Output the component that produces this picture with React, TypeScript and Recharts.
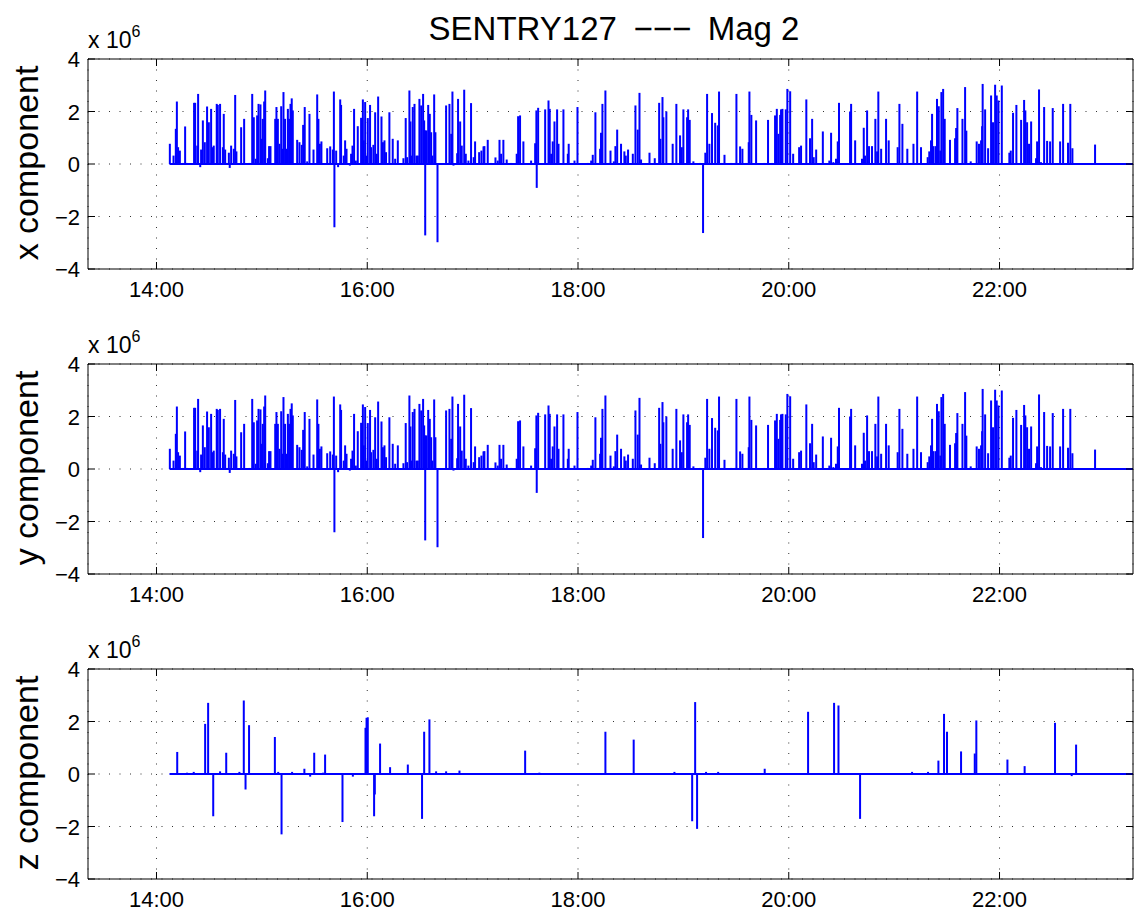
import { ComposedChart, Bar, XAxis, YAxis, CartesianGrid, ReferenceLine } from "recharts"

// time in minutes since midnight, value in units of 1e6
const xSpikes: [number, number][] = [
  [847.6, 0.77], [849.7, 0.32], [851.0, 1.34], [851.6, 2.38], [852.3, 0.64], [853.3, 0.51], [855.2, 0.04],
  [856.3, 1.43], [857.3, 0.04], [861.4, 2.33], [862.0, 2.33], [863.2, 0.7], [863.7, 2.67], [864.9, -0.12],
  [865.4, 0.55], [866.4, 1.66], [867.5, 0.83], [868.8, 2.19], [869.8, 1.59], [871.1, 2.1], [872.1, 0.64],
  [872.6, 0.7], [874.3, 2.29], [874.9, 2.25], [876.2, 2.29], [877.8, 0.64], [878.3, 1.91], [879.1, 0.55],
  [880.0, 0.04], [881.2, 0.43], [881.7, -0.15], [882.5, 0.7], [884.0, 0.58], [884.8, 2.63], [885.5, 0.48],
  [888.2, 1.4], [889.9, 1.72], [892.9, 0.04], [894.5, 2.67], [895.4, 1.78], [896.5, 0.2], [897.3, 1.85],
  [898.1, 2.29], [899.2, 2.27], [900.0, 0.96], [900.5, 1.72], [901.3, 2.38], [901.9, 2.8], [903.4, 0.22],
  [904.1, 0.68], [904.9, 0.68], [907.6, 1.72], [908.3, 2.17], [909.1, 1.72], [910.0, 0.77], [911.0, 2.2],
  [911.5, 0.58], [912.3, 2.74], [913.2, 1.72], [914.0, 0.58], [914.8, 2.1], [915.5, 1.72], [916.3, 2.29],
  [917.0, 2.5], [917.6, 2.04], [920.1, 0.92], [921.4, 0.83], [922.7, 0.73], [923.5, 1.49], [924.4, 2.17],
  [925.8, 0.1], [927.1, 1.91], [929.4, 0.55], [931.5, 2.65], [932.2, 1.72], [933.0, 0.77], [933.9, 0.86],
  [937.2, 0.6], [938.9, 0.67], [940.4, 0.55], [941.0, 2.76], [941.3, -2.41], [942.3, 0.51], [943.4, -0.12],
  [944.6, 2.46], [945.1, 2.25], [946.6, 0.32], [947.4, 0.9], [948.2, 0.58], [950.1, -0.06], [950.8, 0.39],
  [951.6, 0.7], [952.5, 2.1], [953.5, 0.13], [954.6, 1.44], [956.5, 1.76], [957.5, 2.46], [958.0, 0.9],
  [958.8, 2.36], [959.7, 0.32], [960.3, 1.75], [961.6, 2.25], [962.2, 0.64], [963.5, 0.73], [964.5, 1.97],
  [965.4, 0.39], [966.2, 2.57], [968.1, 1.81], [968.9, 0.83], [969.8, 0.9], [970.7, 0.45], [972.6, 1.97],
  [974.5, 0.96], [975.9, 0.2], [977.4, 0.9], [980.6, 0.22], [981.9, 1.75], [982.7, 0.26], [984.0, 2.8],
  [984.6, 1.62], [985.4, 0.32], [985.9, 2.17], [986.9, 2.29], [988.0, 0.32], [988.8, 0.32], [989.7, 2.48],
  [990.7, 2.23], [991.8, 2.67], [992.4, 1.66], [992.9, 1.28], [993.0, -2.72], [993.7, 1.28], [994.7, 2.25],
  [995.6, 1.91], [996.4, 1.21], [997.1, 0.32], [998.1, 2.65], [998.8, 1.21], [1000.0, -2.98], [1004.9, 2.23],
  [1006.8, 2.29], [1007.8, 1.15], [1008.5, 2.76], [1009.1, -0.06], [1011.2, 0.41], [1011.7, 2.48],
  [1012.9, 1.62], [1013.8, 0.7], [1015.2, 2.83], [1016.1, 0.39], [1017.6, 0.13], [1019.1, 2.32],
  [1020.6, 0.26], [1021.4, 0.86], [1023.7, 0.45], [1025.0, 0.51], [1026.2, 0.67], [1026.7, 0.68],
  [1028.6, 0.92], [1030.5, 0.04], [1033.0, 0.25], [1034.3, 0.13], [1035.3, 0.92], [1036.2, 0.39],
  [1037.5, 0.92], [1039.4, 0.17], [1041.9, 0.04], [1045.1, 0.39], [1045.9, 1.82], [1047.0, 1.85],
  [1048.9, 0.86], [1053.3, 0.13], [1055.6, 0.79], [1056.3, 2.04], [1056.5, -0.91], [1057.3, 2.14],
  [1061.3, 2.08], [1063.2, 2.42], [1063.9, 2.1], [1064.7, 0.39], [1065.6, 0.86], [1066.6, 1.62],
  [1068.1, 2.08], [1068.9, 0.77], [1071.7, 2.08], [1074.2, 0.39], [1074.7, 0.77], [1076.1, 0.04],
  [1078.0, 0.13], [1079.7, 2.17], [1085.6, 0.04], [1087.5, 0.13], [1088.4, 0.35], [1089.9, 1.97],
  [1091.3, 0.04], [1092.6, 0.58], [1093.1, 1.19], [1093.9, 2.29], [1095.6, 2.8], [1097.3, 0.04],
  [1098.5, 0.51], [1100.4, 0.1], [1101.3, 0.68], [1102.3, 1.31], [1104.5, 0.77], [1106.4, 0.48],
  [1107.2, 0.32], [1108.5, 0.55], [1111.2, 0.39], [1112.7, 2.23], [1114.0, 1.31], [1115.0, 2.71],
  [1115.9, 0.17], [1120.7, 0.43], [1123.7, 0.22], [1126.2, 2.33], [1126.9, 0.96], [1128.1, 2.55],
  [1128.6, 1.78], [1130.3, 2.0], [1133.9, 0.77], [1136.0, 2.29], [1138.1, 1.09], [1139.1, 0.64],
  [1140.0, 2.08], [1142.1, 1.78], [1142.7, 2.08], [1143.6, 1.68], [1145.7, 0.1], [1149.5, 0.04],
  [1151.2, -2.63], [1152.5, 0.43], [1153.5, 2.67], [1154.8, 0.77], [1156.3, 1.94], [1158.1, 1.57],
  [1159.6, 1.47], [1160.3, 2.76], [1161.8, 0.04], [1163.4, 0.35], [1167.2, 0.04], [1169.4, 0.04],
  [1170.2, 2.67], [1172.3, 0.67], [1173.6, 0.58], [1175.7, 0.04], [1177.2, 0.83], [1177.6, 2.76],
  [1178.7, 1.87], [1181.4, 1.66], [1186.1, 0.04], [1188.2, 1.68], [1190.5, 0.04], [1192.2, 1.85],
  [1193.2, 2.1], [1194.1, 1.15], [1195.1, 1.87], [1195.6, 2.08], [1196.4, 2.1], [1198.3, 2.08],
  [1199.2, 2.86], [1200.8, 2.77], [1202.5, 0.39], [1205.9, 0.64], [1207.0, 0.7], [1210.0, 2.46],
  [1212.1, 0.98], [1213.3, 1.72], [1214.2, 0.26], [1215.6, 0.55], [1219.4, 1.24], [1223.1, 0.13],
  [1224.1, 1.19], [1225.4, 0.07], [1226.9, 0.2], [1227.9, 0.86], [1228.6, 2.33], [1234.9, 2.0],
  [1235.5, 2.29], [1237.8, 0.9], [1241.7, 0.2], [1242.7, 1.38], [1243.4, 0.32], [1244.6, 2.04],
  [1245.7, 0.68], [1247.4, 0.68], [1249.3, 1.72], [1250.3, 0.48], [1251.0, 2.76], [1252.6, 0.58],
  [1255.4, 1.72], [1256.9, 0.9], [1262.0, 0.64], [1263.0, 2.29], [1264.7, 1.53], [1266.2, 0.04],
  [1267.5, 0.58], [1269.6, 0.04], [1271.0, 0.77], [1273.1, 2.76], [1275.3, 0.64], [1279.1, 0.26],
  [1280.0, 0.48], [1281.0, 0.9], [1281.6, 1.91], [1282.2, 0.68], [1283.5, 0.68], [1284.4, 2.48],
  [1285.4, 2.2], [1286.3, 0.51], [1286.9, 2.74], [1287.9, 2.86], [1288.8, 1.72], [1291.8, 0.92],
  [1294.7, 0.98], [1295.3, 1.37], [1296.0, 2.13], [1298.9, 1.72], [1300.4, 2.93], [1301.1, 1.27],
  [1303.6, 0.1], [1307.0, 0.86], [1308.3, 0.77], [1309.5, 0.9], [1310.1, 1.44], [1310.4, 3.05],
  [1311.8, 2.08], [1313.5, 0.6], [1315.2, 2.61], [1316.3, 1.59], [1317.5, 3.02], [1318.4, 2.61],
  [1319.4, 2.42], [1321.3, 2.99], [1325.6, 0.43], [1326.4, 0.51], [1327.7, 1.95], [1329.6, 2.25],
  [1332.3, 1.68], [1334.0, 2.44], [1334.7, 2.04], [1335.7, 1.59], [1336.8, 0.77], [1338.0, 1.62],
  [1340.8, 0.22], [1341.4, 0.86], [1342.5, 2.84], [1343.6, 0.07], [1345.4, 2.17], [1347.1, 0.88],
  [1348.8, 0.86], [1350.3, 2.13], [1354.5, 0.86], [1356.2, 2.29], [1359.0, 0.81], [1360.3, 2.29],
  [1361.5, 0.6], [1374.4, 0.74], [1377.8, 0.03],
]

// the y trace is the same as x in the reference
const ySpikes: [number, number][] = xSpikes

const zSpikes: [number, number][] = [
  [851.8, 0.84], [857.4, 0.05], [861.2, 0.08], [867.7, 1.91], [869.4, 2.71], [872.3, -1.61], [876.2, 0.1],
  [879.7, 0.81], [887.2, 0.08], [889.7, 2.8], [890.7, -0.59], [892.7, 1.86], [907.4, 1.41], [909.3, 0.08],
  [911.2, -2.3], [917.2, 0.08], [924.2, 0.2], [927.5, -0.1], [929.8, 0.81], [934.9, 0.05], [936.0, 0.74],
  [945.9, -1.83], [951.8, -0.1], [959.0, 1.76], [959.6, 2.14], [960.3, 2.16], [963.9, -1.61],
  [964.3, -0.78], [967.3, 1.16], [973.0, 0.26], [983.1, 0.36], [991.2, -1.71], [992.4, 1.61],
  [995.4, 2.08], [999.2, 0.1], [1004.9, 0.1], [1012.5, 0.13], [1049.9, 0.89], [1058.0, 0.05],
  [1095.6, 1.61], [1111.7, 1.31], [1134.9, 0.08], [1145.0, -1.8], [1146.7, 2.74], [1147.8, -2.09],
  [1152.9, 0.08], [1159.8, 0.08], [1186.3, 0.2], [1211.0, 2.37], [1225.8, 2.71], [1228.3, 2.61],
  [1240.6, -1.71], [1270.2, 0.08], [1279.3, 0.08], [1285.2, 0.51], [1288.4, 2.29], [1290.1, 1.61],
  [1298.1, 0.86], [1305.9, 0.78], [1306.8, 2.04], [1324.5, 0.55], [1334.3, 0.3], [1351.6, 1.95],
  [1361.1, -0.08], [1363.6, 1.12],
]

const timeTicks = [840, 960, 1080, 1200, 1320]
const valueTicks = [-4, -2, 0, 2, 4]
const timeDomain = [801, 1396]
const valueDomain = [-4, 4]
const recordStart = 847.4
const recordEnd = 1396
const panelLabels = ["x component", "y component", "z component"]
const titleText = "SENTRY127\u2002\u2212\u2212\u2212\u2002Mag 2"

const FONT = "'Liberation Sans', Arial, Helvetica, sans-serif"
const BLUE = "#0000ff"
const PANEL_TOPS = [0, 305, 610]

const fmtTime = (m: number) => `${Math.floor(m / 60)}:${String(Math.round(m % 60)).padStart(2, "0")}`
const fmtValue = (v: number) => (v < 0 ? `\u2212${-v}` : `${v}`)

// inward ticks like matlab, drawn with the labels
const BottomTick = ({ x, y, payload }: any) => (
  <g>
    <line x1={x} x2={x} y1={y} y2={y - 7} stroke="#000" />
    <text x={x} y={y + 28} textAnchor="middle" fontSize={22} fontFamily={FONT} fill="#000">
      {fmtTime(payload.value)}
    </text>
  </g>
)
const TopTick = ({ x, y }: any) => <line x1={x} x2={x} y1={y} y2={y + 7} stroke="#000" />
const LeftTick = ({ x, y, payload }: any) => (
  <g>
    <line x1={x} x2={x + 7} y1={y} y2={y} stroke="#000" />
    <text x={x - 8} y={y + 8} textAnchor="end" fontSize={22} fontFamily={FONT} fill="#000">
      {fmtValue(payload.value)}
    </text>
  </g>
)
const RightTick = ({ x, y }: any) => <line x1={x} x2={x - 7} y1={y} y2={y} stroke="#000" />

// thin spike, centred on its time whatever band size recharts picks
const Spike = (props: any) => {
  const { x, y, width, height } = props
  if (x == null || y == null) return null
  const top = Math.min(y, y + height)
  const h = Math.max(Math.abs(height), 0.8)
  return <rect x={x + width / 2 - 1} y={top} width={2} height={h} fill={BLUE} />
}

function Panel({ spikes, top }: { spikes: [number, number][]; top: number }) {
  const data = spikes.map(([t, v]) => ({ t, v }))
  return (
    <div style={{ position: "absolute", left: 0, top }}>
      <ComposedChart width={1135} height={306} data={data} margin={{ top: 58, right: 1, bottom: 0, left: 0 }}>
        <CartesianGrid stroke="#333" strokeDasharray="1 9.5" />
        <XAxis
          dataKey="t"
          type="number"
          domain={timeDomain}
          ticks={timeTicks}
          allowDataOverflow
          height={37}
          tickLine={false}
          tickSize={0}
          tickMargin={0}
          axisLine={{ stroke: "#000" }}
          tick={<BottomTick />}
        />
        <XAxis
          xAxisId="top"
          dataKey="t"
          type="number"
          orientation="top"
          domain={timeDomain}
          ticks={timeTicks}
          allowDataOverflow
          height={1}
          tickLine={false}
          tickSize={0}
          tickMargin={0}
          axisLine={{ stroke: "#000" }}
          tick={<TopTick />}
        />
        <YAxis
          type="number"
          domain={valueDomain}
          ticks={valueTicks}
          allowDataOverflow
          width={88}
          tickLine={false}
          tickSize={0}
          tickMargin={0}
          axisLine={{ stroke: "#000" }}
          tick={<LeftTick />}
        />
        <YAxis
          yAxisId="right"
          orientation="right"
          type="number"
          domain={valueDomain}
          ticks={valueTicks}
          allowDataOverflow
          width={1}
          tickLine={false}
          tickSize={0}
          tickMargin={0}
          axisLine={{ stroke: "#000" }}
          tick={<RightTick />}
        />
        <ReferenceLine
          segment={[{ x: recordStart, y: 0 }, { x: recordEnd, y: 0 }]}
          stroke={BLUE}
          strokeWidth={2}
        />
        <Bar dataKey="v" fill={BLUE} shape={<Spike />} isAnimationActive={false} />
      </ComposedChart>
    </div>
  )
}

export default function App() {
  return (
    <div style={{ position: "absolute", left: 0, top: 0, width: 1135, height: 916, background: "#fff" }}>
      <Panel spikes={xSpikes} top={PANEL_TOPS[0]} />
      <Panel spikes={ySpikes} top={PANEL_TOPS[1]} />
      <Panel spikes={zSpikes} top={PANEL_TOPS[2]} />
      <svg
        width={1135}
        height={916}
        style={{ position: "absolute", left: 0, top: 0, pointerEvents: "none" }}
        fontFamily={FONT}
      >
        <text x={614} y={40} textAnchor="middle" fontSize={33} fill="#000">
          {titleText}
        </text>
        {PANEL_TOPS.map((o, i) => (
          <g key={i}>
            <text
              x={38}
              y={o + 163}
              transform={`rotate(-90, 38, ${o + 163})`}
              textAnchor="middle"
              fontSize={34}
              fill="#000"
            >
              {panelLabels[i]}
            </text>
            <text x={88} y={o + 48} fontSize={23} fill="#000">
              x 10
              <tspan dy={-11} fontSize={16}>
                6
              </tspan>
            </text>
          </g>
        ))}
      </svg>
    </div>
  )
}
